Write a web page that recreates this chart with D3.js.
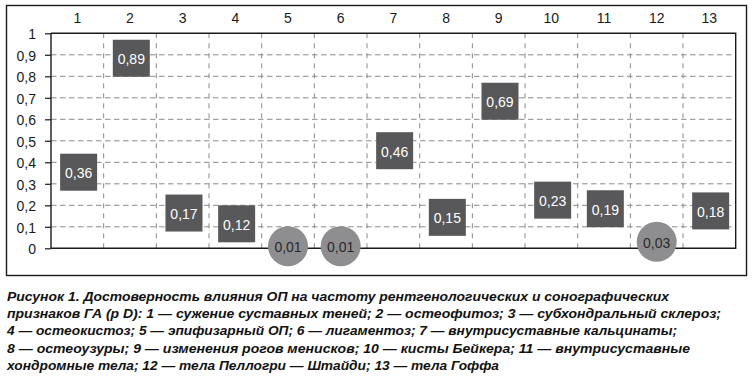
<!DOCTYPE html>
<html>
<head>
<meta charset="utf-8">
<script src="https://cdn.jsdelivr.net/npm/d3@7"></script>
<style>
  body { margin: 0; background: #fff; }
  svg { display: block; }
</style>
</head>
<body>
<div id="chart"></div>
<script>
// data
const categories = ["1", "2", "3", "4", "5", "6", "7", "8", "9", "10", "11", "12", "13"];
const values = [0.36, 0.89, 0.17, 0.12, 0.01, 0.01, 0.46, 0.15, 0.69, 0.23, 0.19, 0.03, 0.18];
const y_ticks = [0, 0.1, 0.2, 0.3, 0.4, 0.5, 0.6, 0.7, 0.8, 0.9, 1];
const caption_lines = [
  "Рисунок 1. Достоверность влияния ОП на частоту рентгенологических и сонографических",
  "признаков ГА (p D): 1 — сужение суставных теней; 2 — остеофитоз; 3 — субхондральный склероз;",
  "4 — остеокистоз; 5 — эпифизарный ОП; 6 — лигаментоз; 7 — внутрисуставные кальцинаты;",
  "8 — остеоузуры; 9 — изменения рогов менисков; 10 — кисты Бейкера; 11 — внутрисуставные",
  "хондромные тела; 12 — тела Пеллогри — Штайди; 13 — тела Гоффа"
];
const caption_widths = [662, 714, 670, 683, 492];
const p_limit = 0.05; // below this the value is drawn as a circle

const width_chart = 752;
const height_chart = 379;
const plot_left = 51, plot_right = 735.7, plot_top = 33.3, plot_bottom = 248.3;
const font_main = "'Liberation Sans', Arial, Helvetica, sans-serif";

const ru = d3.formatLocale({decimal: ",", thousands: " ", grouping: [3], currency: ["", ""]});
const fmt_tick = ru.format(".2~f");
const fmt_value = ru.format(".2f");

const svg = d3.select("#chart")
  .append("svg")
  .attr("width", width_chart)
  .attr("height", height_chart);

var x = d3.scaleBand()
  .domain(categories)
  .range([plot_left, plot_right])
  .padding(0);

var y = d3.scaleLinear()
  .domain([0, 1])
  .range([plot_bottom, plot_top]);

// outer frame
svg.append("rect")
  .attr("x", 6.5)
  .attr("y", 5.5)
  .attr("width", 740)
  .attr("height", 270)
  .attr("fill", "none")
  .attr("stroke", "#1a1a1a")
  .attr("stroke-width", 1.4);

// dashed grid
svg.append("g")
  .selectAll("line")
  .data(y_ticks.filter(d => d > 0 && d < 1))
  .join("line")
  .attr("x1", plot_left)
  .attr("x2", plot_right)
  .attr("y1", d => y(d))
  .attr("y2", d => y(d))
  .attr("stroke", "#8a8a8a")
  .attr("stroke-width", 1)
  .attr("stroke-dasharray", "5.5,3.5");

svg.append("g")
  .selectAll("line")
  .data(categories.slice(1))
  .join("line")
  .attr("x1", d => x(d))
  .attr("x2", d => x(d))
  .attr("y1", plot_top)
  .attr("y2", plot_bottom)
  .attr("stroke", "#8a8a8a")
  .attr("stroke-width", 1)
  .attr("stroke-dasharray", "5,5");

// left axis
const y_axis = svg.append("g")
  .attr("transform", "translate(" + plot_left + ",0)")
  .call(d3.axisLeft(y)
    .tickValues(y_ticks)
    .tickSize(6)
    .tickPadding(9)
    .tickFormat(fmt_tick));
y_axis.select(".domain")
  .attr("stroke", "#1a1a1a")
  .attr("stroke-width", 1.4)
  .attr("d", "M0," + plot_top + "V" + plot_bottom);
y_axis.selectAll(".tick line").attr("stroke", "#1a1a1a").attr("stroke-width", 1.2);
y_axis.selectAll(".tick text")
  .attr("font-family", font_main)
  .attr("font-size", 14)
  .attr("fill", "#1a1a1a")
  .attr("dy", "0.38em");

// top, right and bottom edges of the plot
svg.append("path")
  .attr("d", "M" + plot_left + "," + plot_top + "H" + plot_right + "V" + plot_bottom + "H" + plot_left)
  .attr("fill", "none")
  .attr("stroke", "#1a1a1a")
  .attr("stroke-width", 1.4);

// column numbers on top
const x_axis = svg.append("g")
  .attr("transform", "translate(0," + plot_top + ")")
  .call(d3.axisTop(x).tickSize(0).tickPadding(10));
x_axis.select(".domain").remove();
x_axis.selectAll(".tick text")
  .attr("font-family", font_main)
  .attr("font-size", 14)
  .attr("fill", "#1a1a1a");

// markers
const marks = svg.append("g")
  .selectAll("g")
  .data(categories.map((c, i) => ({cat: c, value: values[i]})))
  .join("g")
  .attr("transform", d => d.value < p_limit
    ? "translate(" + (x(d.cat) + x.bandwidth() / 2) + "," + y(d.value) + ")"
    : "translate(" + (x(d.cat) + x.bandwidth() / 2 + 1.3) + "," + (y(d.value) + 1.3) + ")");

marks.filter(d => d.value >= p_limit)
  .append("rect")
  .attr("x", -18.5)
  .attr("y", -18.5)
  .attr("width", 37)
  .attr("height", 37)
  .attr("fill", "#58585a");

marks.filter(d => d.value < p_limit)
  .append("circle")
  .attr("r", 20)
  .attr("fill", "#8e8e90");

marks.append("text")
  .attr("text-anchor", "middle")
  .attr("y", 6)
  .attr("font-family", font_main)
  .attr("font-size", 14)
  .attr("fill", d => d.value < p_limit ? "#2a2a2a" : "#ffffff")
  .text(d => fmt_value(d.value));

// caption
svg.append("g")
  .selectAll("text")
  .data(caption_lines)
  .join("text")
  .attr("x", 7)
  .attr("y", (d, i) => 301 + i * 17.2)
  .attr("font-family", font_main)
  .attr("font-size", 13)
  .attr("font-weight", "bold")
  .attr("font-style", "italic")
  .attr("fill", "#111111")
  .attr("textLength", (d, i) => caption_widths[i])
  .attr("lengthAdjust", "spacingAndGlyphs")
  .text(d => d);
</script>
</body>
</html>
